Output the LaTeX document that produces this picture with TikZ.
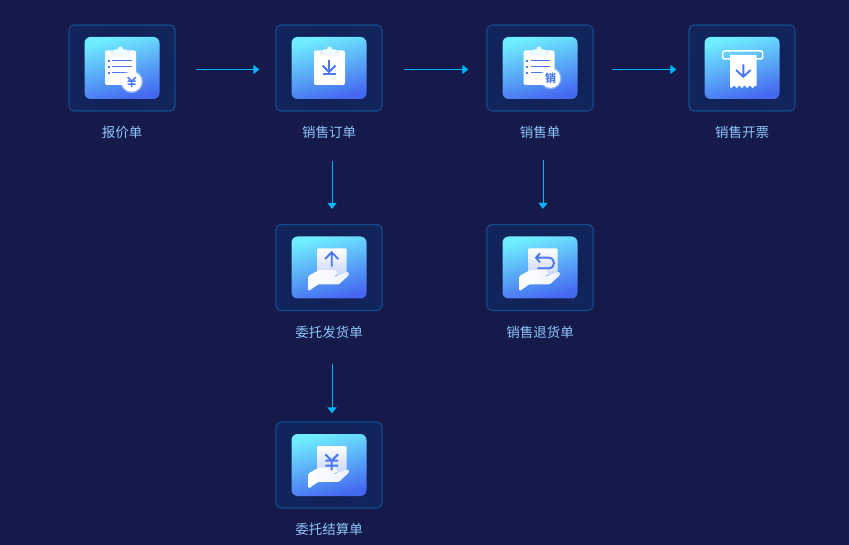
\documentclass[tikz,border=0pt]{standalone}
\usepackage{fontspec}
\setmainfont{Noto Sans CJK SC}
\usetikzlibrary{arrows.meta,positioning}
\definecolor{pagebg}{HTML}{151A4A}
\definecolor{cardin}{HTML}{111A4A}
\definecolor{cardout}{HTML}{12245C}
\definecolor{cardline}{HTML}{134A8C}
\definecolor{labelblue}{HTML}{8FC4F8}
\definecolor{flowblue}{HTML}{00B4F5}
\definecolor{icontop}{HTML}{70EEFF}
\definecolor{iconbot}{HTML}{4468F0}
\definecolor{markblue}{HTML}{4A78F0}
\definecolor{paperlow}{HTML}{C9D5FA}
\tikzset{
  cardbox/.style={draw=cardline, line width=1.2pt, inner color=cardin, outer color=cardout, rounded corners=5pt, minimum width=106pt, minimum height=86pt, inner sep=0pt},
  iconbox/.style={top color=icontop, bottom color=iconbot, shading angle=15, rounded corners=6pt, minimum width=75pt, minimum height=62pt, inner sep=0pt},
  cardlabel/.style={text=labelblue, font=\fontsize{13.5}{13.5}\selectfont, text height=10pt, text depth=3pt, inner sep=0pt},
  flowarrow/.style={flowblue, line width=1pt, -{Triangle[length=6pt,width=9pt]}},
  markline/.style={markblue, line width=1.9pt},
  yuanline/.style={markline, line width=1.5pt},
  clipboard/.pic={
    \fill[white, rounded corners=2pt] (-15.5,-17.5) rectangle (15.5,17);
    \shade[top color=white!50!paperlow, bottom color=white] (-9,-17.5) rectangle (9,-11);
    \fill[white!88!icontop, rounded corners=2pt] (-7,-18.5) rectangle (7,-14);
    \fill[white!88!icontop] (0,-19) circle[radius=2.5pt];
  },
  listlines/.pic={
    \foreach \y in {-7.3,-1.3,4.7} {
      \fill[markblue] (-12.8,\y-1) rectangle (-10.8,\y+1);
      \draw[markline, line width=1.6pt] (-8.5,\y) -- (11,\y);
    }
  },
  yuanmark/.pic={
    \draw[yuanline] (-4,-5) -- (0,-1) -- (4,-5) (0,-1) -- (0,5) (-4,-1) -- (4,-1) (-4,2) -- (4,2);
  },
  downmark/.pic={
    \draw[markline] (0,-6) -- (0,6) (-6.5,-0.5) -- (0,6) -- (6.5,-0.5);
  },
  handpaper/.pic={
    \shade[top color=white, bottom color=paperlow, rounded corners=1pt] (-12,-19) rectangle (17.5,8);
  },
  handfront/.pic={
    \shade[left color=white, right color=white!70!paperlow, rounded corners=1pt] (-20.3,23.5) -- (-20.3,8.2) -- (-9.7,2.5) -- (6,2.5) -- (8.7,5.8) -- (4.3,9.5) -- (19.3,4.2) -- (20,7.5) -- (10,16.8) -- (-10.7,16.8) -- cycle;
  },
}
\begin{document}
\begin{tikzpicture}[x=1pt,y=-1pt]
\useasboundingbox (0,0) rectangle (849,545);
\fill[pagebg] (0,0) rectangle (849,545);
% cards and their labels
\foreach \name/\x/\y/\lab in {baojia/122/68/报价单, dingdan/329/68/销售订单, xiaoshou/540/68/销售单, kaipiao/742/68/销售开票, weituo/329/267.5/委托发货单, tuihuo/540/267.5/销售退货单, jiesuan/329/465/委托结算单} {
  \node[cardbox] (\name) at (\x,\y) {};
  \node[iconbox] (\name-icon) at (\name) {};
  \node[cardlabel, below=16pt of \name] (\name-lab) {\lab};
}
% arrows along the top row
\foreach \from/\to/\gapa/\gapb in {baojia/dingdan/20/16, dingdan/xiaoshou/21/18, xiaoshou/kaipiao/18/12} {
  \draw[flowarrow, shorten <=\gapa pt, shorten >=\gapb pt] ([yshift=-1.5pt]\from.east) -- ([yshift=-1.5pt]\to.west);
}
% arrows going down
\foreach \from/\to/\gapa/\gapb in {dingdan-lab/weituo/20/15, xiaoshou-lab/tuihuo/19/15, weituo-lab/jiesuan/24/8} {
  \draw[flowarrow, shorten <=\gapa pt, shorten >=\gapb pt] ([xshift=3pt]\to.north |- \from.south) -- ([xshift=3pt]\to.north);
}
% quotation
\pic at ([xshift=-1.5pt]baojia.center) {clipboard};
\pic at ([xshift=-1.5pt]baojia.center) {listlines};
\fill[white, opacity=.35] ([xshift=9.7pt,yshift=-13.7pt]baojia.center) circle[radius=11.5pt];
\fill[white] ([xshift=9.7pt,yshift=-13.7pt]baojia.center) circle[radius=10pt];
\pic at ([xshift=9.7pt,yshift=-14.2pt]baojia.center) {yuanmark};
% order
\pic at ([xshift=0.5pt]dingdan.center) {clipboard};
\pic at ([yshift=2pt]dingdan.center) {downmark};
\draw[markline] ([xshift=-6.5pt,yshift=-6.3pt]dingdan.center) -- ([xshift=7pt,yshift=-6.3pt]dingdan.center);
% sale
\pic at ([xshift=-1pt]xiaoshou.center) {clipboard};
\pic at ([xshift=-1pt]xiaoshou.center) {listlines};
\fill[white, opacity=.35] ([xshift=10.7pt,yshift=-10.3pt]xiaoshou.center) circle[radius=11pt];
\fill[white] ([xshift=10.7pt,yshift=-10.3pt]xiaoshou.center) circle[radius=9.5pt];
\node[text=markblue, font=\fontsize{11}{11}\selectfont\bfseries, inner sep=0pt] (xiaoshou-mark) at ([xshift=10.7pt,yshift=-10.3pt]xiaoshou.center) {销};
% invoice
\draw[white, line width=1.5pt, rounded corners=2pt] ([xshift=-19.3pt,yshift=17pt]kaipiao.center) rectangle ([xshift=20.7pt,yshift=9pt]kaipiao.center);
\begin{scope}[shift={(kaipiao.center)}]
  \fill[white] (-12,-13) -- (14.7,-13) -- (14.7,18.7) -- plot[domain=14.7:-12,samples=60] (\x,{18.7+1.1*cos(\x*360/5.34)}) -- cycle;
  \draw[markline] (1.3,-3.7) -- (1.3,8.7) (-6,2) -- (1.3,8.7) -- (8.7,2);
\end{scope}
% consignment
\pic at (weituo.center) {handpaper};
\pic at (weituo.center) {handfront};
\begin{scope}[shift={(weituo.center)}]
  \draw[markline] (2.7,-0.8) -- (2.7,-15.2) (-4,-8.5) -- (2.7,-15.2) -- (9.3,-8.5);
\end{scope}
% return
\pic at (tuihuo.center) {handpaper};
\pic at (tuihuo.center) {handfront};
\begin{scope}[shift={(tuihuo.center)}]
  \draw[markline] (0,-14.2) -- (-4,-9.8) -- (0,-5.2) (-4,-9.8) -- (8.3,-9.8) .. controls (16,-9.8) and (16,0.8) .. (8.3,0.8) -- (-2.7,0.8);
\end{scope}
% settlement
\pic at (jiesuan.center) {handpaper};
\pic at (jiesuan.center) {handfront};
\pic[scale=1.6, yuanline/.append style={line width=2pt}] at ([xshift=2.7pt,yshift=2.7pt]jiesuan.center) {yuanmark};
\end{tikzpicture}
\end{document}
